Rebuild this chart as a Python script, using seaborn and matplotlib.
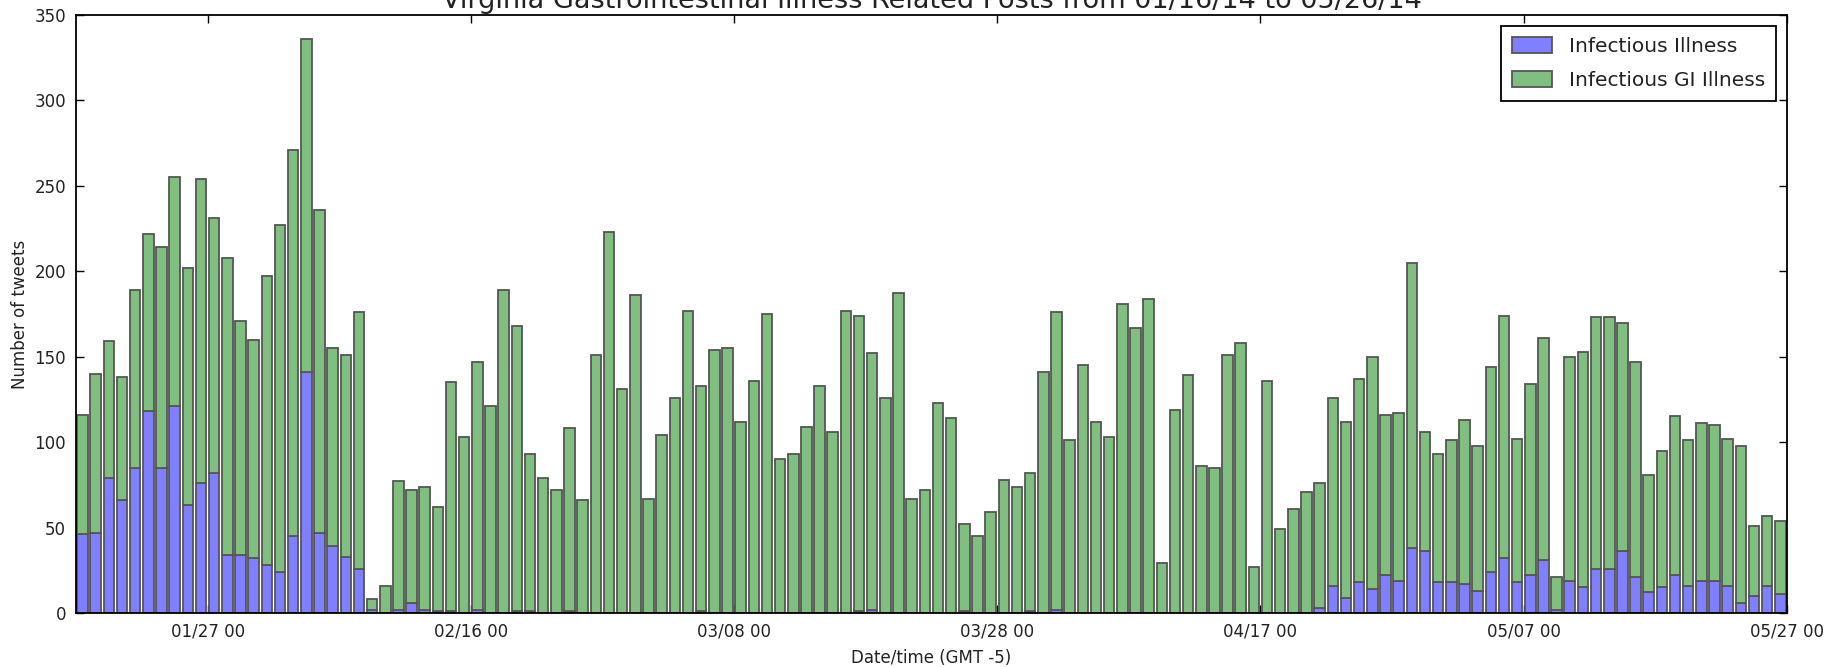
import numpy as np
import pandas as pd
import matplotlib
matplotlib.use("Agg")
import matplotlib.pyplot as plt
import matplotlib.dates as mdates
from matplotlib.patches import Patch
import seaborn as sns

# Daily tweet counts, 2014-01-17 .. 2014-05-26
days = pd.date_range("2014-01-17", "2014-05-26", freq="D")

# "Infectious Illness" posts (lower segment of each bar)
illness = [
    46, 47, 79, 66, 85, 118, 85, 121, 63, 76, 82, 34, 34, 32, 28, 24, 45, 141, 47, 39,
    33, 26, 2, 0, 2, 6, 2, 1, 1, 0, 2, 0, 0, 1, 1, 0, 0, 1, 0, 0,
    0, 0, 0, 0, 0, 0, 0, 1, 0, 0, 0, 0, 0, 0, 0, 0, 0, 0, 0, 1,
    2, 0, 0, 0, 0, 0, 0, 1, 0, 0, 0, 0, 1, 0, 2, 0, 0, 0, 0, 0,
    0, 0, 0, 0, 0, 0, 0, 0, 0, 0, 0, 0, 0, 0, 3, 16, 9, 18, 14, 22,
    19, 38, 36, 18, 18, 17, 13, 24, 32, 18, 22, 31, 2, 19, 15, 26, 26, 36, 21, 12,
    15, 22, 16, 19, 19, 16, 6, 10, 16, 11,
]

# "Infectious GI Illness" posts (upper segment of each bar)
gi_illness = [
    70, 93, 80, 72, 104, 104, 129, 134, 139, 178, 149, 174, 137, 128, 169, 203, 226, 195, 189, 116,
    118, 150, 6, 16, 75, 66, 72, 61, 134, 103, 145, 121, 189, 167, 92, 79, 72, 107, 66, 151,
    223, 131, 186, 67, 104, 126, 177, 132, 154, 155, 112, 136, 175, 90, 93, 109, 133, 106, 177, 173,
    150, 126, 187, 67, 72, 123, 114, 51, 45, 59, 78, 74, 81, 141, 174, 101, 145, 112, 103, 181,
    167, 184, 29, 119, 139, 86, 85, 151, 158, 27, 136, 49, 61, 71, 73, 110, 103, 119, 136, 94,
    98, 167, 70, 75, 83, 96, 85, 120, 142, 84, 112, 130, 19, 131, 138, 147, 147, 134, 126, 69,
    80, 93, 85, 92, 91, 86, 92, 41, 41, 43,
]

tick_dates = ["2014-01-27", "2014-02-16", "2014-03-08", "2014-03-28",
              "2014-04-17", "2014-05-07", "2014-05-27"]
y_ticks = [0, 50, 100, 150, 200, 250, 300, 350]

series_names = ["Infectious Illness", "Infectious GI Illness"]
colors = {"Infectious Illness": "#8080ff", "Infectious GI Illness": "#80bf80"}
edge_color = "#555555"

day_num = mdates.date2num(days)
df = pd.concat(
    [pd.DataFrame({"day": day_num, "series": name, "count": vals})
     for name, vals in zip(series_names, [illness, gi_illness])],
    ignore_index=True,
)

sns.set_style("ticks")
plt.rcParams["font.family"] = ["DejaVu Sans"]

fig = plt.figure(figsize=(18.35, 6.67), dpi=100)
ax = fig.add_axes([0.0414, 0.081, 0.9324, 0.8965])

# one bin per day; seaborn stacks the last hue level at the bottom
bin_edges = [float(d) for d in day_num] + [float(day_num[-1]) + 1.0]
sns.histplot(
    data=df, x="day", weights="count", hue="series",
    hue_order=series_names[::-1], multiple="stack", bins=bin_edges,
    shrink=0.8, palette=colors, alpha=1, edgecolor=edge_color,
    linewidth=1.3, legend=False, ax=ax,
)

ax.set_xlim(day_num[0], day_num[-1] + 1)
ax.set_ylim(0, 350)
ax.set_xticks(mdates.date2num(pd.to_datetime(tick_dates)))
ax.xaxis.set_major_formatter(mdates.DateFormatter("%m/%d %H"))
ax.set_yticks(y_ticks)

ax.tick_params(direction="in", top=True, right=True, length=6, width=1,
               labelsize=12, pad=7, colors="black", labelcolor="#222222")
for sp in ax.spines.values():
    sp.set_visible(True)
    sp.set_color("black")
    sp.set_linewidth(1.3)

ax.set_title("Virginia Gastrointestinal Illness Related Posts from 01/16/14 to 05/26/14",
             fontsize=19.5, pad=5, color="#222222")
ax.set_xlabel("Date/time (GMT -5)", fontsize=12, labelpad=6, color="#222222")
ax.set_ylabel("Number of tweets", fontsize=12, labelpad=4, color="#222222")

handles = [Patch(facecolor=colors[n], edgecolor=edge_color, linewidth=1.3, label=n)
           for n in series_names]
leg = ax.legend(handles=handles, loc="upper right", fontsize=14.5, frameon=True,
                fancybox=False, framealpha=1, edgecolor="black",
                borderaxespad=0.55, handlelength=2.0, handleheight=0.85,
                labelspacing=0.75, handletextpad=0.8, borderpad=0.55)
leg.get_frame().set_linewidth(1.3)
for t in leg.get_texts():
    t.set_color("#222222")

fig.savefig("out.png", dpi=100)
